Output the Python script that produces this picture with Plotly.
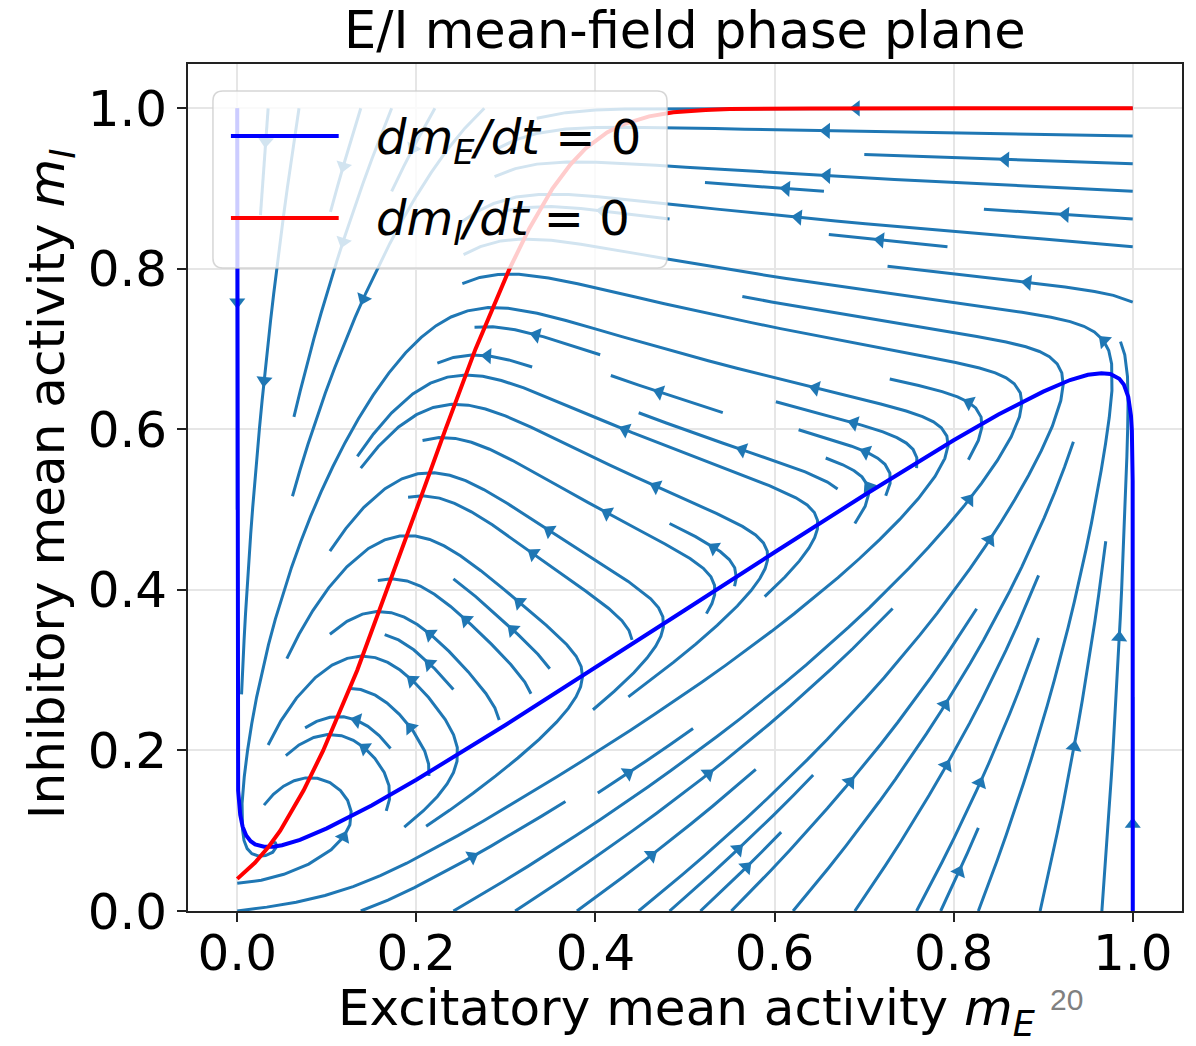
import numpy as np
import plotly.graph_objects as go

# ---------------- data ----------------
title_text = "E/I mean-field phase plane"
x_label = "Excitatory mean activity <i>m</i><sub><i>E</i></sub>"
y_label = "Inhibitory mean activity <i>m</i><sub><i>I</i></sub>"
legend_labels = ["<i>dm</i><sub><i>E</i></sub><i>/dt</i> = 0",
                 "<i>dm</i><sub><i>I</i></sub><i>/dt</i> = 0"]
tick_vals = [0.0, 0.2, 0.4, 0.6, 0.8, 1.0]
tick_text = ["0.0", "0.2", "0.4", "0.6", "0.8", "1.0"]
page_number = "20"

# dmE/dt = 0 nullcline (blue), traced
nullE_mE = [0.0, 0.0, 0.001, 0.0033, 0.006, 0.01, 0.015, 0.02, 0.03, 0.04, 0.05,
            0.07, 0.10, 0.15, 0.20, 0.30, 0.40, 0.50, 0.60, 0.70, 0.80, 0.85,
            0.90, 0.93, 0.95, 0.965, 0.975, 0.985, 0.99, 0.995, 0.998, 0.999,
            0.9999, 1.0, 1.0]
nullE_mI = [1.0, 0.25, 0.15, 0.12, 0.105, 0.094, 0.087, 0.083, 0.080, 0.080, 0.082,
            0.0885, 0.103, 0.1315, 0.1635, 0.232, 0.303, 0.375, 0.447, 0.518, 0.5865, 0.6185,
            0.647, 0.6615, 0.668, 0.670, 0.669, 0.663, 0.656, 0.6405, 0.617, 0.599,
            0.536, 0.40, 0.0]

# dmI/dt = 0 nullcline (red), traced
nullI_mE = [0.0, 0.0197, 0.035, 0.048, 0.074, 0.096, 0.134, 0.1675, 0.200, 0.2325,
            0.266, 0.304, 0.326, 0.352, 0.372, 0.389, 0.413, 0.431, 0.460, 0.487,
            0.523, 0.550, 0.639, 0.80, 1.0]
nullI_mI = [0.04, 0.06, 0.08, 0.10, 0.15, 0.20, 0.30, 0.40, 0.50, 0.60,
            0.70, 0.80, 0.85, 0.90, 0.93, 0.95, 0.97, 0.98, 0.99, 0.995,
            0.998, 0.999, 0.9999, 1.0, 1.0]

# E/I mean-field parameters estimated from the nullcline shapes (for the flow field)
w_EE, w_EI, h_E = 30.0, 36.0, -1.5
w_IE, w_II, h_I = 26.0, 4.4, -3.0
tau_E, tau_I = 1.0, 2.0
grid_n = 100

# ---------------- layout geometry ----------------
W, H = 1196, 1046
L, R, T, B = 188, 1184, 64, 911
x_range = [-0.055, 1.055]
y_range = [0.0, 1.0552]
px_x = (R - L) / (x_range[1] - x_range[0])
px_y = (B - T) / (y_range[1] - y_range[0])
FONT = "DejaVu Sans"
STREAM_C = "#1f77b4"


def sig(z):
    return 1.0 / (1.0 + np.exp(-z))


gx = np.linspace(0, 1, grid_n)
gy = np.linspace(0, 1, grid_n)
XX, YY = np.meshgrid(gx, gy)
U = (-XX + sig(w_EE * XX - w_EI * YY + h_E)) / tau_E
V = (-YY + sig(w_IE * XX - w_II * YY + h_I)) / tau_I


# ------------- streamline integration (matplotlib-style) -------------
class _Invalid(Exception):
    pass


class _OOB(Exception):
    pass


class _Term(Exception):
    pass


def streamlines(x, y, u, v, density=1.0, minlength=0.1, maxlength=4.0):
    nxg, nyg = len(x), len(y)
    dx, dy = x[1] - x[0], y[1] - y[0]
    mnx = mny = int(30 * density)
    mask = np.zeros((mny, mnx), dtype=int)
    xg2m = (mnx - 1) / (nxg - 1)
    yg2m = (mny - 1) / (nyg - 1)
    ug = u / dx
    vg = v / dy
    speed = np.sqrt((ug / (nxg - 1)) ** 2 + (vg / (nyg - 1)) ** 2)
    st = {"traj": [], "cur": None}

    def interp(a, xi, yi):
        xi0, yi0 = int(xi), int(yi)
        xn = xi0 if xi0 == nxg - 1 else xi0 + 1
        yn = yi0 if yi0 == nyg - 1 else yi0 + 1
        xt, yt = xi - xi0, yi - yi0
        a0 = a[yi0, xi0] * (1 - xt) + a[yi0, xn] * xt
        a1 = a[yn, xi0] * (1 - xt) + a[yn, xn] * xt
        return a0 * (1 - yt) + a1 * yt

    def within(xi, yi):
        return 0 <= xi <= nxg - 1 and 0 <= yi <= nyg - 1

    def g2m(xi, yi):
        return int(round(xi * xg2m)), int(round(yi * yg2m))

    def upd_mask(xm, ym):
        if st["cur"] != (xm, ym):
            if mask[ym, xm] == 0:
                st["traj"].append((ym, xm))
                mask[ym, xm] = 1
                st["cur"] = (xm, ym)
            else:
                raise _Invalid

    def upd_traj(xg, yg):
        if not within(xg, yg):
            raise _Invalid
        xm, ym = g2m(xg, yg)
        upd_mask(xm, ym)

    def fwd(xi, yi):
        if not within(xi, yi):
            raise _OOB
        s = interp(speed, xi, yi)
        if s == 0:
            raise _Term
        return interp(ug, xi, yi) / s, interp(vg, xi, yi) / s

    def bwd(xi, yi):
        a, b = fwd(xi, yi)
        return -a, -b

    def euler(traj, f):
        xi, yi = traj[-1]
        cx, cy = f(xi, yi)
        if cx == 0:
            dsx = np.inf
        elif cx < 0:
            dsx = xi / -cx
        else:
            dsx = (nxg - 1 - xi) / cx
        if cy == 0:
            dsy = np.inf
        elif cy < 0:
            dsy = yi / -cy
        else:
            dsy = (nyg - 1 - yi) / cy
        ds = min(dsx, dsy)
        traj.append((xi + cx * ds, yi + cy * ds))
        return ds, traj

    def rk12(x0, y0, f):
        maxerror = 0.003
        maxds = min(1.0 / mnx, 1.0 / mny, 0.1)
        ds = maxds
        stotal = 0.0
        xi, yi = x0, y0
        traj = []
        while True:
            try:
                if within(xi, yi):
                    traj.append((xi, yi))
                else:
                    raise _OOB
                k1x, k1y = f(xi, yi)
                k2x, k2y = f(xi + ds * k1x, yi + ds * k1y)
            except _OOB:
                if traj:
                    ds, traj = euler(traj, f)
                    stotal += ds
                break
            except _Term:
                break
            dx1, dy1 = ds * k1x, ds * k1y
            dx2, dy2 = ds * 0.5 * (k1x + k2x), ds * 0.5 * (k1y + k2y)
            err = np.hypot((dx2 - dx1) / (nxg - 1), (dy2 - dy1) / (nyg - 1))
            if err < maxerror:
                xi += dx2
                yi += dy2
                try:
                    upd_traj(xi, yi)
                except _Invalid:
                    break
                if stotal + ds > maxlength:
                    break
                stotal += ds
            if err == 0:
                ds = maxds
            else:
                ds = min(maxds, 0.85 * ds * (maxerror / err) ** 0.5)
        return stotal, traj

    def integrate(x0, y0):
        st["traj"] = []
        try:
            xm, ym = g2m(x0, y0)
            upd_mask(xm, ym)
        except _Invalid:
            return None
        stotal, xy = 0.0, []
        s, t = rk12(x0, y0, bwd)
        stotal += s
        xy += t[::-1]
        st["cur"] = g2m(x0, y0)
        s, t = rk12(x0, y0, fwd)
        stotal += s
        xy += t[1:]
        if stotal > minlength:
            return np.array(xy)
        for (a, b) in st["traj"]:
            mask[a, b] = 0
        return None

    def starts(ny, nx):
        xfirst, yfirst, xlast, ylast = 0, 1, nx - 1, ny - 1
        xx, yy = 0, 0
        d = "right"
        for _ in range(nx * ny):
            yield xx, yy
            if d == "right":
                xx += 1
                if xx >= xlast:
                    xlast -= 1
                    d = "up"
            elif d == "up":
                yy += 1
                if yy >= ylast:
                    ylast -= 1
                    d = "left"
            elif d == "left":
                xx -= 1
                if xx <= xfirst:
                    xfirst += 1
                    d = "down"
            else:
                yy -= 1
                if yy <= yfirst:
                    yfirst += 1
                    d = "right"

    out = []
    for xm, ym in starts(mny, mnx):
        if mask[ym, xm] == 0:
            t = integrate(xm / xg2m, ym / yg2m)
            if t is not None:
                out.append(np.column_stack([t[:, 0] * dx + x[0], t[:, 1] * dy + y[0]]))
    return out


trajs = streamlines(gx, gy, U, V)

sx, sy = [], []
ax_, ay_, aang = [], [], []
arrow_size = 14
for t in trajs:
    tx, ty = t[:, 0], t[:, 1]
    sx += list(tx) + [None]
    sy += list(ty) + [None]
    s = np.cumsum(np.hypot(np.diff(tx), np.diff(ty)))
    n = int(np.searchsorted(s, s[-1] / 2.0))
    tail = (tx[n], ty[n])
    head = (np.mean(tx[n:n + 2]), np.mean(ty[n:n + 2]))
    dpx = (head[0] - tail[0]) * px_x
    dpy = (head[1] - tail[1]) * px_y
    ln = np.hypot(dpx, dpy)
    if ln == 0:
        continue
    ang = np.degrees(np.arctan2(dpx, dpy))
    back = arrow_size * 0.5
    ax_.append(head[0] - back * dpx / ln / px_x)
    ay_.append(head[1] - back * dpy / ln / px_y)
    aang.append(ang)

fig = go.Figure()
fig.add_trace(go.Scatter(x=sx, y=sy, mode="lines", line=dict(color=STREAM_C, width=3),
                         hoverinfo="skip", showlegend=False))
fig.add_trace(go.Scatter(x=ax_, y=ay_, mode="markers",
                         marker=dict(symbol="triangle-up", size=arrow_size, angle=aang,
                                     color=STREAM_C, line=dict(width=0)),
                         hoverinfo="skip", showlegend=False))
fig.add_trace(go.Scatter(x=nullE_mE, y=nullE_mI, mode="lines",
                         line=dict(color="#0000ff", width=4), showlegend=False))
fig.add_trace(go.Scatter(x=nullI_mE, y=nullI_mI, mode="lines",
                         line=dict(color="#ff0000", width=4), showlegend=False))


def px2paper(px, py):
    return (px - L) / (R - L), (B - py) / (B - T)


# legend box (rounded) + samples + labels
lx0, ly0, lx1, ly1, rad = 213, 91, 668, 268, 10
def P(px, py):
    a, b = px2paper(px, py)
    return f"{a:.5f},{b:.5f}"
path = (f"M{P(lx0 + rad, ly0)} L{P(lx1 - rad, ly0)} Q{P(lx1, ly0)} {P(lx1, ly0 + rad)} "
        f"L{P(lx1, ly1 - rad)} Q{P(lx1, ly1)} {P(lx1 - rad, ly1)} "
        f"L{P(lx0 + rad, ly1)} Q{P(lx0, ly1)} {P(lx0, ly1 - rad)} "
        f"L{P(lx0, ly0 + rad)} Q{P(lx0, ly0)} {P(lx0 + rad, ly0)} Z")
shapes = [dict(type="path", path=path, xref="paper", yref="paper", layer="above",
               fillcolor="rgba(255,255,255,0.8)", line=dict(color="rgba(204,204,204,0.8)", width=1.5))]
legend_colors = ["#0000ff", "#ff0000"]
legend_y = [136, 218]
annotations = []
for lab, col, yy in zip(legend_labels, legend_colors, legend_y):
    xa, ya = px2paper(231, yy)
    xb, _ = px2paper(339, yy)
    shapes.append(dict(type="line", xref="paper", yref="paper", x0=xa, x1=xb, y0=ya, y1=ya,
                       layer="above", line=dict(color=col, width=4)))
    xt, yt = px2paper(374, yy + 4)
    annotations.append(dict(text=lab, x=xt, y=yt, xref="paper", yref="paper", xanchor="left",
                            yanchor="middle", showarrow=False,
                            font=dict(family=FONT, size=48, color="black")))

tx_, ty_ = px2paper(686, 30)
annotations.append(dict(text=title_text, x=tx_, y=ty_, xref="paper", yref="paper",
                        xanchor="center", yanchor="middle", showarrow=False,
                        font=dict(family=FONT, size=51, color="black")))
tx_, ty_ = px2paper(688, 1012)
annotations.append(dict(text=x_label, x=tx_, y=ty_, xref="paper", yref="paper",
                        xanchor="center", yanchor="middle", showarrow=False,
                        font=dict(family=FONT, size=50, color="black")))
tx_, ty_ = px2paper(50, 484)
annotations.append(dict(text=y_label, x=tx_, y=ty_, xref="paper", yref="paper",
                        xanchor="center", yanchor="middle", showarrow=False, textangle=-90,
                        font=dict(family=FONT, size=50, color="black")))
tx_, ty_ = px2paper(1068, 999)
annotations.append(dict(text=page_number, x=tx_, y=ty_, xref="paper", yref="paper",
                        xanchor="center", yanchor="middle", showarrow=False,
                        font=dict(family="Liberation Sans", size=30, color="#808080")))

axis_common = dict(showline=True, mirror=True, linecolor="#222222", linewidth=1.6,
                   ticks="outside", ticklen=9, tickwidth=1.6, tickcolor="#222222",
                   showgrid=True, gridcolor="#e6e6e6", gridwidth=1.6, zeroline=False,
                   tickvals=tick_vals, ticktext=tick_text,
                   tickfont=dict(family=FONT, size=50, color="black"))
fig.update_layout(
    width=W, height=H, margin=dict(l=L, r=W - R, t=T, b=H - B),
    paper_bgcolor="white", plot_bgcolor="white",
    xaxis=dict(range=x_range, ticklabelstandoff=-12, **axis_common),
    yaxis=dict(range=y_range, ticklabelstandoff=0, **axis_common),
    shapes=shapes, annotations=annotations, showlegend=False,
)
fig.write_html("out.html")
